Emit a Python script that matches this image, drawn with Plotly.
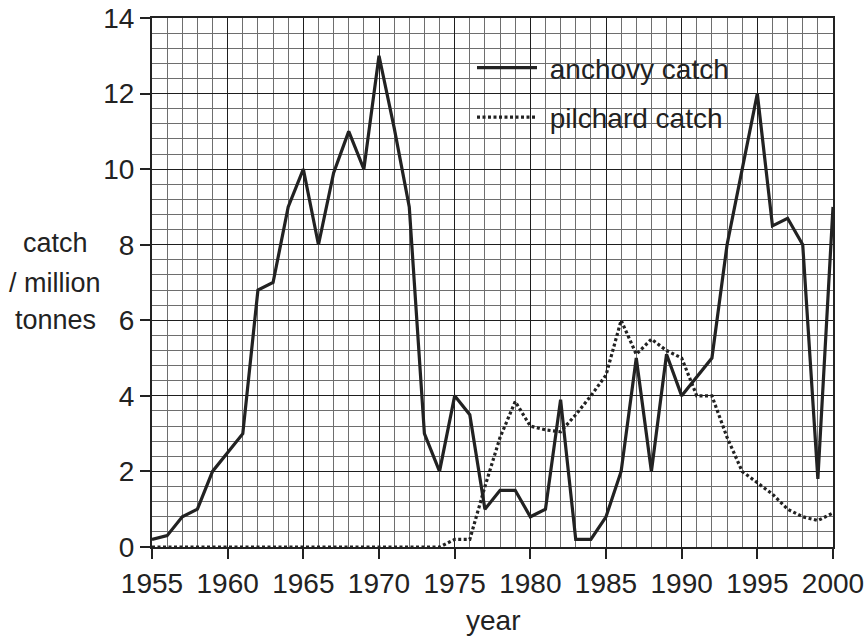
import plotly.graph_objects as go

years = [1955, 1956, 1957, 1958, 1959, 1960, 1961, 1962, 1963, 1964,
         1965, 1966, 1967, 1968, 1969, 1970, 1971, 1972, 1973, 1974,
         1975, 1976, 1977, 1978, 1979, 1980, 1981, 1982, 1983, 1984,
         1985, 1986, 1987, 1988, 1989, 1990, 1991, 1992, 1993, 1994,
         1995, 1996, 1997, 1998, 1999, 2000]

anchovy = [0.2, 0.3, 0.8, 1.0, 2.0, 2.5, 3.0, 6.8, 7.0, 9.0,
           10.0, 8.0, 9.9, 11.0, 10.0, 13.0, 11.1, 9.0, 3.0, 2.0,
           4.0, 3.5, 1.0, 1.5, 1.5, 0.8, 1.0, 3.9, 0.2, 0.2,
           0.8, 2.0, 5.0, 2.0, 5.1, 4.0, 4.5, 5.0, 8.0, 10.0,
           12.0, 8.5, 8.7, 8.0, 1.8, 9.0]

pilchard = [0, 0, 0, 0, 0, 0, 0, 0, 0, 0,
            0, 0, 0, 0, 0, 0, 0, 0, 0, 0,
            0.2, 0.2, 1.6, 2.9, 3.85, 3.2, 3.1, 3.05, 3.5, 4.0,
            4.55, 6.0, 5.1, 5.5, 5.2, 5.0, 4.0, 4.0, 2.9, 2.0,
            1.7, 1.4, 1.0, 0.8, 0.7, 0.9]

x_ticks = [1955, 1960, 1965, 1970, 1975, 1980, 1985, 1990, 1995, 2000]
y_ticks = [0, 2, 4, 6, 8, 10, 12, 14]

FONT = "Liberation Sans, Arial, Helvetica, sans-serif"
INK = "#222222"
TICK_SIZE = 28
TITLE_SIZE = 27

fig = go.Figure()
fig.add_trace(go.Scatter(
    x=years, y=anchovy, mode="lines", name="\u00a0anchovy catch",
    legendgroup="a",
    line=dict(color=INK, width=3.2),
))
fig.add_trace(go.Scatter(
    x=years, y=pilchard, mode="lines", name="\u00a0pilchard catch",
    legendgroup="p",
    line=dict(color=INK, width=3.2, dash="3px,2.5px"),
))

W, H = 867, 637
L, R, T, B = 152, 34, 18, 90
pw, ph = W - L - R, H - T - B

def px_x(p):
    return (p - L) / pw

def px_y(p):
    return (H - B - p) / ph

# white backing boxes for the legend entries
for (x0, x1, y0, y1) in [(471.7, 728, 53, 87), (471.7, 725, 101.7, 135)]:
    fig.add_shape(type="rect", xref="paper", yref="paper",
                  x0=px_x(x0), x1=px_x(x1), y0=px_y(y1), y1=px_y(y0),
                  fillcolor="white", line=dict(width=0), layer="between")

axis_common = dict(
    showline=True, linecolor=INK, linewidth=2, mirror=True,
    ticks="outside", ticklen=10, tickwidth=2, tickcolor=INK,
    showgrid=True, gridcolor="#1e1e1e", gridwidth=1.4,
    zeroline=False,
    tickfont=dict(family=FONT, size=TICK_SIZE, color=INK),
)

fig.update_xaxes(
    range=[1955, 2000], tickmode="array", tickvals=x_ticks,
    ticktext=[str(v) for v in x_ticks],
    minor=dict(dtick=1, showgrid=True, gridcolor="#6e6e6e", gridwidth=1),
    **axis_common,
)
fig.update_yaxes(
    range=[0, 14], tickmode="array", tickvals=y_ticks,
    ticktext=[str(v) for v in y_ticks],
    minor=dict(dtick=0.4, tick0=0, showgrid=True, gridcolor="#6e6e6e", gridwidth=1),
    **axis_common,
)

annos = [
    ("catch", 55, 243, TITLE_SIZE),
    ("/ million", 55, 282.5, TITLE_SIZE),
    ("tonnes", 56, 320, TITLE_SIZE),
    ("year", 492.5, 620, TICK_SIZE),
]
for text, ax, ay, sz in annos:
    fig.add_annotation(text=text, xref="paper", yref="paper",
                       x=px_x(ax), y=px_y(ay), xanchor="center", yanchor="middle",
                       showarrow=False, font=dict(family=FONT, size=sz, color=INK))

fig.update_layout(
    width=W, height=H,
    margin=dict(l=L, r=R, t=T, b=B, autoexpand=False),
    paper_bgcolor="white", plot_bgcolor="white",
    font=dict(family=FONT, size=TICK_SIZE, color=INK),
    showlegend=True,
    legend=dict(
        x=px_x(472), y=px_y(43), xanchor="left", yanchor="top",
        bgcolor="rgba(0,0,0,0)", borderwidth=0,
        font=dict(family=FONT, size=TICK_SIZE, color=INK),
        itemwidth=60, tracegroupgap=10,
    ),
)

fig.write_html("out.html", config={"displayModeBar": False},
               post_script="document.body.style.margin='0';")
